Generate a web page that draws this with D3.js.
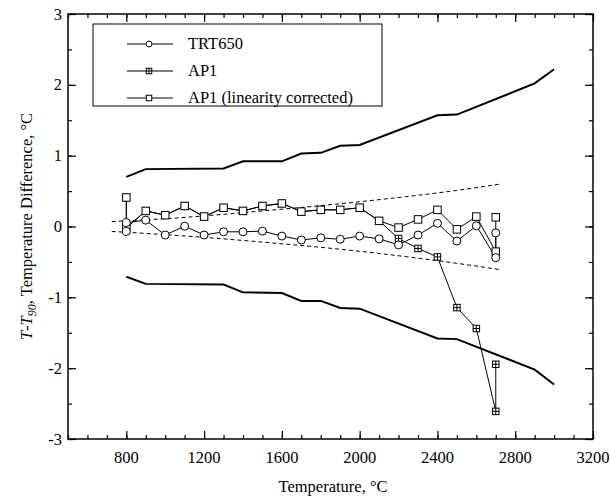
<!DOCTYPE html>
<html><head><meta charset="utf-8">
<script src="https://cdn.jsdelivr.net/npm/d3@7"></script>
<style>body{margin:0;background:#fff}svg{display:block}text{font-family:"Liberation Serif","Times New Roman",serif;fill:#000}</style>
</head><body><svg id="c" width="610" height="499"></svg>
<script>
// ---- data ----
const boundT = [800,900,1300,1400,1600,1700,1800,1900,2000,2400,2500,2900,3000];
const upperBound = [0.70,0.81,0.82,0.92,0.92,1.03,1.04,1.14,1.15,1.57,1.58,2.02,2.22];
const lowerBound = [-0.71,-0.81,-0.82,-0.93,-0.94,-1.05,-1.05,-1.15,-1.16,-1.58,-1.59,-2.02,-2.23];

const dashT = [725,1000,1500,2000,2500,2725];
const dashUpper = [0.07,0.11,0.22,0.35,0.51,0.60];
const dashLower = [-0.07,-0.115,-0.22,-0.35,-0.52,-0.61];

const measT = [800,800,900,1000,1100,1200,1300,1400,1500,1600,1700,1800,1900,2000,2100,2200,2300,2400,2500,2600,2700,2700];
const trt650 = [-0.07,0.055,0.09,-0.12,0.005,-0.12,-0.075,-0.075,-0.065,-0.135,-0.19,-0.16,-0.18,-0.135,-0.175,-0.26,-0.12,0.045,-0.205,0.01,-0.44,-0.09];
const ap1 = [0.41,-0.02,0.22,0.16,0.29,0.14,0.265,0.22,0.29,0.325,0.21,0.235,0.235,0.265,0.08,-0.17,-0.31,-0.43,-1.145,-1.44,-2.61,-1.945];
const ap1Corr = [0.41,-0.02,0.22,0.16,0.29,0.14,0.265,0.22,0.29,0.325,0.21,0.235,0.235,0.265,0.08,-0.015,0.10,0.235,-0.04,0.14,-0.355,0.13];

const seriesNames = ["TRT650","AP1","AP1 (linearity corrected)"];
const xTickLabels = [800,1200,1600,2000,2400,2800,3200];
const yTickLabels = [3,2,1,0,-1,-2,-3];
const xMinorTicks = d3.range(500,3201,100);
const yMinorTicks = d3.range(-3,3.01,0.5);

// ---- layout ----
const L=68,R=593,T=14,B=439, FS=16.5;
const x = d3.scaleLinear().domain([500,3200]).range([L,R]);
const y = d3.scaleLinear().domain([-3,3]).range([B,T]);
const svg = d3.select("#c");

function ticks(g, axisFn, vals, size){
  g.call(axisFn.tickValues(vals).tickSize(size).tickSizeOuter(0).tickFormat(""));
  g.select(".domain").remove();
  g.selectAll("line").attr("stroke","#000").attr("stroke-width",1.2);
}
const majX = xTickLabels, majY = yTickLabels;
ticks(svg.append("g").attr("transform",`translate(0,${B})`), d3.axisBottom(x), xMinorTicks, -4);
ticks(svg.append("g").attr("transform",`translate(0,${B})`), d3.axisBottom(x), majX, -8);
ticks(svg.append("g").attr("transform",`translate(0,${T})`), d3.axisTop(x), xMinorTicks, -4);
ticks(svg.append("g").attr("transform",`translate(0,${T})`), d3.axisTop(x), majX, -8);
ticks(svg.append("g").attr("transform",`translate(${L},0)`), d3.axisLeft(y), yMinorTicks, -4);
ticks(svg.append("g").attr("transform",`translate(${L},0)`), d3.axisLeft(y), majY, -8);
ticks(svg.append("g").attr("transform",`translate(${R},0)`), d3.axisRight(y), yMinorTicks, -4);
ticks(svg.append("g").attr("transform",`translate(${R},0)`), d3.axisRight(y), majY, -8);

svg.append("rect").attr("x",L).attr("y",T).attr("width",R-L).attr("height",B-T)
  .attr("fill","none").attr("stroke","#000").attr("stroke-width",1.5);

// tick labels
svg.append("g").selectAll("text").data(xTickLabels).join("text")
  .attr("x",d=>x(d)).attr("y",B+24).attr("text-anchor","middle").attr("font-size",FS).text(d=>d);
svg.append("g").selectAll("text").data(yTickLabels).join("text")
  .attr("x",L-6).attr("y",d=>y(d)+5.5).attr("text-anchor","end").attr("font-size",FS).text(d=>d);

// axis titles
svg.append("text").attr("x",333).attr("y",492).attr("text-anchor","middle").attr("font-size",FS)
  .text("Temperature, \u00B0C");
const yl = svg.append("text").attr("transform",`translate(32,${(T+B)/2}) rotate(-90)`)
  .attr("text-anchor","middle").attr("font-size",FS);
yl.append("tspan").attr("font-style","italic").text("T");
yl.append("tspan").text("-");
yl.append("tspan").attr("font-style","italic").text("T");
yl.append("tspan").attr("font-style","italic").attr("font-size",12).attr("dy",4).text("90");
yl.append("tspan").attr("dy",-4).text(", Temperature Difference, \u00B0C");

// bounds
const line = d3.line().x(d=>x(d[0])).y(d=>y(d[1]));
const plot = svg.append("g");
[upperBound, lowerBound].forEach(vals=>{
  plot.append("path").attr("d", line(boundT.map((t,i)=>[t,vals[i]])))
    .attr("fill","none").attr("stroke","#000").attr("stroke-width",2);
});
[dashUpper, dashLower].forEach(vals=>{
  plot.append("path").attr("d", d3.line().curve(d3.curveMonotoneX).x(d=>x(d[0])).y(d=>y(d[1]))(dashT.map((t,i)=>[t,vals[i]])))
    .attr("fill","none").attr("stroke","#000").attr("stroke-width",1).attr("stroke-dasharray","4,3");
});

// series lines
[ap1, ap1Corr, trt650].forEach(vals=>{
  plot.append("path").attr("d", line(measT.map((t,i)=>[t,vals[i]])))
    .attr("fill","none").attr("stroke","#000").attr("stroke-width",1);
});

function crossSq(g,cx,cy,s){
  g.append("rect").attr("x",cx-s/2).attr("y",cy-s/2).attr("width",s).attr("height",s)
    .attr("fill","#fff").attr("stroke","#000").attr("stroke-width",1);
  g.append("line").attr("x1",cx).attr("x2",cx).attr("y1",cy-s/2).attr("y2",cy+s/2).attr("stroke","#000").attr("stroke-width",1);
  g.append("line").attr("x1",cx-s/2).attr("x2",cx+s/2).attr("y1",cy).attr("y2",cy).attr("stroke","#000").attr("stroke-width",1);
}
function sq(g,cx,cy,s){
  g.append("rect").attr("x",cx-s/2).attr("y",cy-s/2).attr("width",s).attr("height",s)
    .attr("fill","#fff").attr("stroke","#000").attr("stroke-width",1);
}
function circ(g,cx,cy,r){
  g.append("circle").attr("cx",cx).attr("cy",cy).attr("r",r)
    .attr("fill","#fff").attr("stroke","#000").attr("stroke-width",1);
}
const mg = svg.append("g");
measT.forEach((t,i)=>crossSq(mg,x(t),y(ap1[i]),6.5));
measT.forEach((t,i)=>sq(mg,x(t),y(ap1Corr[i]),7.5));
measT.forEach((t,i)=>circ(mg,x(t),y(trt650[i]),4));

// legend
const lg = svg.append("g");
lg.append("rect").attr("x",93).attr("y",24).attr("width",289).attr("height",82)
  .attr("fill","#fff").attr("stroke","#000").attr("stroke-width",1);
const rows=[44,71,98];
seriesNames.forEach((n,i)=>{
  const ry=rows[i];
  lg.append("line").attr("x1",127).attr("x2",173).attr("y1",ry).attr("y2",ry).attr("stroke","#000").attr("stroke-width",1);
  if(i===0) circ(lg,149,ry,3);
  else if(i===1) crossSq(lg,149,ry,5.5);
  else sq(lg,149,ry,5.5);
  lg.append("text").attr("x",188).attr("y",ry+5).attr("font-size",FS).text(n);
});
</script></body></html>
